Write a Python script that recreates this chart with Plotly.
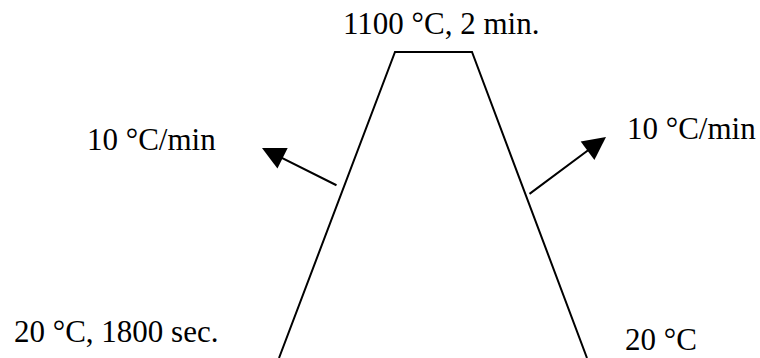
import plotly.graph_objects as go

# Schematic heat-treatment profile (not to scale)
stages = ["start", "heated", "hold end", "cooled"]
time_schematic = [0, 116, 193, 308]
temperature_c = [20, 1100, 1100, 20]

labels = ["1100 °C, 2 min.", "10 °C/min", "10 °C/min", "20 °C, 1800 sec.", "20 °C"]

W, H = 760, 358

fig = go.Figure()
fig.add_trace(go.Scatter(
    x=time_schematic, y=temperature_c, mode="lines",
    line=dict(color="black", width=2), hoverinfo="skip", showlegend=False,
    cliponaxis=False,
))

def px(x):
    return x / W

def py(y):
    return 1 - y / H

font = dict(family="Liberation Serif, Times New Roman, serif", size=31, color="black")

# text labels (pixel centres)
label_pos = [(441, 23), (151.5, 139), (691, 128), (116, 331), (661, 339)]
for t, (x, y) in zip(labels, label_pos):
    fig.add_annotation(x=px(x), y=py(y), xref="paper", yref="paper", text=t,
                       showarrow=False, font=font, xanchor="center", yanchor="middle")

# arrows: tip and tail in pixels
for tip, tail in [((262, 148), (338, 186)), ((606, 137), (528, 195))]:
    fig.add_annotation(x=px(tip[0]), y=py(tip[1]), xref="paper", yref="paper",
                       ax=tail[0] - tip[0], ay=tail[1] - tip[1],
                       showarrow=True, arrowhead=2, arrowsize=2.3, arrowwidth=2,
                       arrowcolor="black", text="")

k = 306 / 1080  # pixels per degree
fig.update_layout(
    width=W, height=H, margin=dict(l=0, r=0, t=0, b=0),
    paper_bgcolor="white", plot_bgcolor="white",
    xaxis=dict(range=[-279, 481], visible=False, fixedrange=True),
    yaxis=dict(range=[20, 20 + H / k], visible=False, fixedrange=True),
)

fig.write_html("out.html", config={"displayModeBar": False},
               post_script="document.body.style.margin='0';document.body.style.overflow='hidden';")
